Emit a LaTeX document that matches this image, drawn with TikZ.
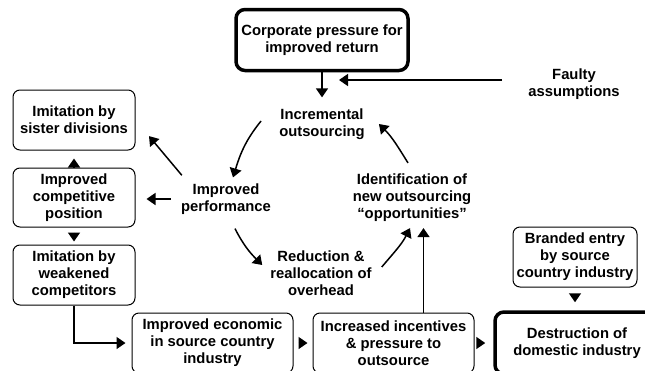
\documentclass[tikz,border=0pt]{standalone}
\usepackage{fontspec}
\setmainfont{Liberation Sans}
\usetikzlibrary{arrows.meta}
\tikzset{>={Triangle[length=9pt,width=12pt]}}
\tikzset{
  plain box/.style={
    draw, rounded corners=7pt, line width=1pt, align=center,
    minimum width=122pt, minimum height=60pt, inner sep=2pt}}
\tikzset{
  heavy box/.style={plain box, line width=3.5pt, rounded corners=9pt}}
\tikzset{
  free text/.style={align=center, inner sep=2pt}}
\tikzset{
  flow arrow/.style={->, line width=1.5pt}}

\begin{document}
\begin{tikzpicture}[x=1pt,y=-1pt,font=\fontsize{14.8}{17}\selectfont\bfseries]
    \clip (0,0) rectangle (645,370);
    % the loop in the middle
    \node[heavy box,minimum width=172pt,minimum height=61pt] (corp) at (322,40) {Corporate pressure for\\improved return};
    \node[free text] (incr) at (322,124) {Incremental\\outsourcing};
    \node[free text] (faulty) at (574,84) {Faulty\\assumptions};
    \node[free text] (perf) at (226,199) {Improved\\performance};
    \node[free text] (reduc) at (321,273) {Reduction \&\\reallocation of\\overhead};
    \node[free text] (ident) at (412,198) {Identification of\\new outsourcing\\“opportunities”};
    % boxes round it
    \node[plain box] (sister) at (74,120) {Imitation by\\sister divisions};
    \node[plain box,minimum height=59pt] (comp) at (74,197.5) {Improved\\competitive\\position};
    \node[plain box] (weak) at (74,275) {Imitation by\\weakened\\competitors};
    \node[plain box,minimum width=161pt] (econ) at (212.5,343) {Improved economic\\in source country\\industry};
    \node[plain box,minimum width=161pt] (incent) at (393.5,343) {Increased incentives\\\& pressure to\\outsource};
    \node[plain box,minimum width=124pt] (brand) at (575,257) {Branded entry\\by source\\country industry};
    \node[heavy box,minimum width=164pt,minimum height=62pt] (destr) at (577,343) {Destruction of\\domestic industry};
    \coordinate (join) at (339,80);

    \draw[flow arrow,shorten >=9pt] (corp) -- (incr);
    \draw[flow arrow,shorten <=24pt] (join -| faulty.west) -- (join);
    \draw[flow arrow] ([xshift=-16pt,yshift=3pt]incr.west) to[out=231,in=73] ([xshift=7pt,yshift=4pt]perf.north);
    \draw[flow arrow] ([xshift=9pt,yshift=-12pt]perf.south) to[out=-63,in=135] ([xshift=-6pt,yshift=8pt]reduc.west);
    \draw[flow arrow] ([xshift=8pt,yshift=6pt]reduc.east) to[out=50,in=-117] ([xshift=-2pt,yshift=-4pt]ident.south);
    \draw[flow arrow] ([xshift=-4pt,yshift=9pt]ident.north) to[out=122,in=-45] ([xshift=12pt]incr.east);

    \draw[flow arrow,shorten <=8pt,shorten >=21pt] ([xshift=8pt]perf.north west) -- (sister.east);
    \draw[flow arrow,shorten <=8pt,shorten >=11pt] (perf.west) -- (perf.west -| comp.east);
    \draw[flow arrow,shorten <=1pt,shorten >=8pt] (comp) -- (sister);
    \draw[flow arrow,shorten <=5pt,shorten >=3pt] (comp) -- (weak);
    \draw[flow arrow,shorten >=6pt] (weak.south) |- (econ.west);
    \draw[flow arrow,shorten <=5pt,shorten >=5pt] (econ) -- (incent);
    \draw[flow arrow,shorten <=4pt,shorten >=8pt] (incent) -- (destr);
    \draw[flow arrow,shorten <=7pt,shorten >=8pt] (brand.south) -- (brand.south |- destr.north);
    \draw[flow arrow,shorten >=4pt] ([xshift=30pt]incent.north) -- ([xshift=30pt]incent.north |- ident.south);
\end{tikzpicture}
\end{document}
